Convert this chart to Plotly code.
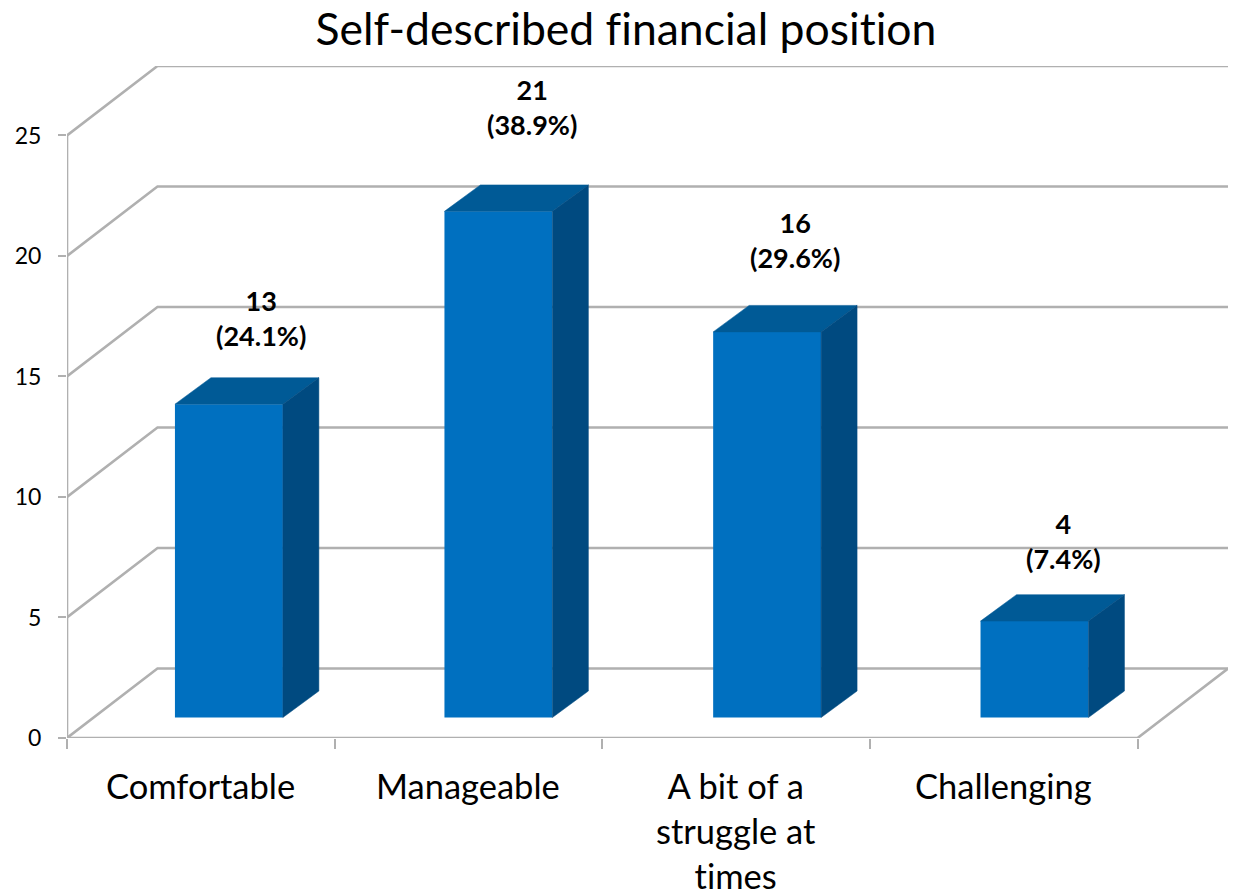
import plotly.graph_objects as go

categories = ["Comfortable", "Manageable", "A bit of a<br>struggle at<br>times", "Challenging"]
counts = [13, 21, 16, 4]
percents = ["24.1%", "38.9%", "29.6%", "7.4%"]
y_ticks = [0, 5, 10, 15, 20, 25]

# chart geometry in axis units
PX_X = 267.75
PX_Y = 24.12
DEPTH_X = 90.5 / PX_X
DEPTH_Y = 69.5 / PX_Y
X_MAX = 4 + DEPTH_X
Y_MAX = 25 + DEPTH_Y
BAR_OFFSET = [0.605, 0.612, 0.616, 0.615]
BAR_WIDTH = 108 / PX_X
BAR_BASE = 20.5 / PX_Y
BAR_DX = 36 / PX_X
BAR_DY = 26.5 / PX_Y
LABEL_DX = [0.726, 0.739, 0.72, 0.723]
LABEL_DY = [4.41, 5.2, 4.67, 4.16]

GRID = "#b0b0b0"
FRONT = "#0070c0"
TOP = "#005a96"
SIDE = "#004a80"
FONT = "Lato, Carlito, Calibri, sans-serif"

fig = go.Figure()
shapes = []


def line(xs, ys, color=GRID, width=2.6):
    path = "M " + " L ".join(f"{x},{y}" for x, y in zip(xs, ys))
    shapes.append(dict(type="path", path=path, xref="x", yref="y", layer="below",
                       line=dict(color=color, width=width)))


def poly(xs, ys, color):
    fig.add_trace(go.Scatter(x=xs, y=ys, mode="lines", fill="toself", fillcolor=color,
                             hoverinfo="skip", line=dict(color=color, width=0.5), showlegend=False))


# walls and floor, kept behind the bars
for v in y_ticks:
    line([0, DEPTH_X, X_MAX], [v, v + DEPTH_Y, v + DEPTH_Y])
line([0, 0], [0, 25])
line([0, 4, X_MAX], [0, 0, DEPTH_Y])

# front faces of the bars
fig.add_trace(go.Bar(x=[i + BAR_OFFSET[i] for i in range(len(counts))], y=counts, base=BAR_BASE,
                     width=BAR_WIDTH, marker=dict(color=FRONT, line=dict(width=0)), showlegend=False))

# top and side faces
for i, v in enumerate(counts):
    left = i + BAR_OFFSET[i] - BAR_WIDTH / 2
    right = i + BAR_OFFSET[i] + BAR_WIDTH / 2
    bottom = BAR_BASE
    top = BAR_BASE + v
    poly([left, right, right + BAR_DX, left + BAR_DX, left],
         [top, top, top + BAR_DY, top + BAR_DY, top], TOP)
    poly([right, right + BAR_DX, right + BAR_DX, right, right],
         [top, top + BAR_DY, bottom + BAR_DY, bottom, top], SIDE)

annotations = []
for i, (v, p) in enumerate(zip(counts, percents)):
    annotations.append(dict(x=i + LABEL_DX[i], y=v + LABEL_DY[i], xref="x", yref="y",
                            text=f"<b>{v}<br>({p})</b>", showarrow=False,
                            font=dict(family=FONT, size=27, color="#000000")))
for i, c in enumerate(categories):
    annotations.append(dict(x=i + 0.5, y=0, xref="x", yref="y", yshift=-25, yanchor="top",
                            text=c, showarrow=False, align="center",
                            font=dict(family=FONT, size=34.5, color="#000000")))

fig.update_layout(
    width=1233, height=893, autosize=False,
    margin=dict(l=66.5, r=5, t=65.5, b=155),
    paper_bgcolor="white", plot_bgcolor="white",
    title=dict(text="Self-described financial position", x=626 / 1233, xanchor="center",
               y=1 - 29 / 893, yanchor="middle", font=dict(family=FONT, size=44.5, color="#000000")),
    xaxis=dict(range=[0, X_MAX], tickmode="array", tickvals=list(range(5)), showticklabels=False,
               ticks="outside", ticklen=10, tickwidth=2, tickcolor=GRID, showgrid=False,
               zeroline=False, showline=False),
    yaxis=dict(range=[0, Y_MAX], tickmode="array", tickvals=y_ticks, ticks="outside", ticklen=8,
               tickwidth=2, tickcolor=GRID, showgrid=False, zeroline=False, showline=False,
               ticklabelstandoff=12, tickfont=dict(family=FONT, size=23, color="#000000")),
    annotations=annotations,
    shapes=shapes,
)

post = """
document.body.style.margin = '0';
var s = document.createElement('style');
s.textContent = 'svg text { font-variant-ligatures: none !important; font-feature-settings: "liga" 0 !important; }';
document.head.appendChild(s);
"""
fig.write_html("out.html", config={"displayModeBar": False}, post_script=post)
